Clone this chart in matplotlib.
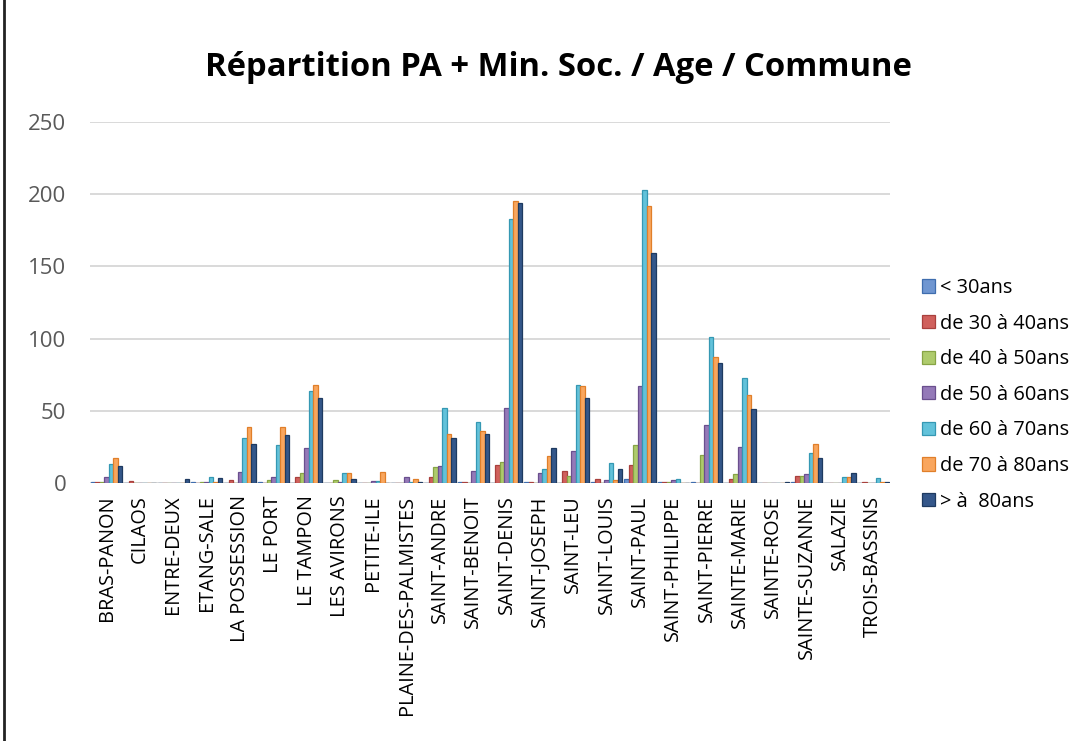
import matplotlib
matplotlib.use("Agg")
import matplotlib.pyplot as plt
import numpy as np
from matplotlib.lines import Line2D

communes = ["BRAS-PANON", "CILAOS", "ENTRE-DEUX", "ETANG-SALE", "LA POSSESSION",
            "LE PORT", "LE TAMPON", "LES AVIRONS", "PETITE-ILE",
            "PLAINE-DES-PALMISTES", "SAINT-ANDRE", "SAINT-BENOIT", "SAINT-DENIS",
            "SAINT-JOSEPH", "SAINT-LEU", "SAINT-LOUIS", "SAINT-PAUL",
            "SAINT-PHILIPPE", "SAINT-PIERRE", "SAINTE-MARIE", "SAINTE-ROSE",
            "SAINTE-SUZANNE", "SALAZIE", "TROIS-BASSINS"]

series_labels = ["< 30ans", "de 30 à 40ans", "de 40 à 50ans", "de 50 à 60ans",
                 "de 60 à 70ans", "de 70 à 80ans", "> à  80ans"]

lt30    = [1, 0,   0,   1,   0,   1,   0,  0,  0,   0,  0,  1,  0,    1,  0,  1,  3,    0.5, 1,    0,  0, 1,    0, 0]
a30_40  = [0.5, 1.5, 0, 0,   2,   0,   4,  0,  0,   0,  4,  1,  12.5, 1,  8,  3,  12.5, 1,   0,    3,  0, 5,    0, 1]
a40_50  = [1, 0,   0,   0.5, 0,   2,   7,  2,  0,   0,  11, 0,  14.5, 0,  5,  0,  26,   1,   19.5, 6,  0, 5,    0, 0]
a50_60  = [4, 0,   0,   1,   7.5, 4,   24, 1,  1.5, 4,  12, 8,  52,   7,  22, 2,  67,   2,   40,   25, 0, 6,    0, 0]
a60_70  = [13, 0,  0,   4.5, 31,  26,  64, 7,  1.5, 1,  52, 42, 183,  10, 68, 14, 203,  3,   101,  73, 0, 20.5, 4, 3.5]
a70_80  = [17, 0,  0,   1,   39,  39,  68, 7,  7.5, 3,  34, 36, 195,  19, 67, 2,  192,  0,   87,   61, 0, 27,   4, 1]
gt80    = [12, 0,  2.5, 3.5, 27,  33,  59, 3,  0,   1,  31, 34, 194,  24, 59, 10, 159,  0,   83,   51, 1, 17,   7, 1]

all_series = [lt30, a30_40, a40_50, a50_60, a60_70, a70_80, gt80]

face_colors = ["#6F96D1", "#D0605C", "#AECB6C", "#9479B8", "#62C2DA", "#F9A65E", "#34578A"]
edge_colors = ["#3F6DAE", "#A9403D", "#87A445", "#6A4F8E", "#3598B3", "#E07F2A", "#1E3A60"]

y_ticks = [0, 50, 100, 150, 200, 250]

plt.rcParams["font.family"] = ["Open Sans", "DejaVu Sans"]

fig = plt.figure(figsize=(10.89, 7.41), dpi=100)
ax = fig.add_axes([90 / 1089, 1 - 483 / 741, 800 / 1089, 361 / 741])

n_cat = len(communes)
n_ser = len(all_series)
x = np.arange(n_cat)
group_w = 0.94
bw = group_w / n_ser
for i, (vals, fc, ec, lab) in enumerate(zip(all_series, face_colors, edge_colors, series_labels)):
    offs = -group_w / 2 + bw * (i + 0.5)
    ax.bar(x + offs, vals, width=bw, color=fc, edgecolor=ec, linewidth=0.9,
           label=lab, zorder=3)

ax.set_xlim(-0.5, n_cat - 0.5)
ax.set_ylim(0, 250)
ax.set_yticks(y_ticks)
ax.set_yticklabels([str(v) for v in y_ticks], fontsize=16, color="#595959")
ax.set_xticks(x)
ax.set_xticklabels(communes, rotation=90, fontsize=14.3, color="#000000")
ax.tick_params(axis="both", length=0)
ax.tick_params(axis="y", pad=17)
ax.tick_params(axis="x", pad=9)
ax.yaxis.grid(True, color="#D9D9D9", linewidth=1.4, zorder=0)
ax.set_axisbelow(True)
for s in ax.spines.values():
    s.set_visible(False)
ax.axhline(0, color="#D9D9D9", linewidth=1.4, zorder=1)

fig.text(558 / 1089, 1 - 67 / 741, "Répartition PA + Min. Soc. / Age / Commune",
         ha="center", va="center", fontsize=23.6, fontweight="bold", color="#000000")

leg = ax.legend(loc="upper left", bbox_to_anchor=(914 / 1089, 1 - 270 / 741),
                bbox_transform=fig.transFigure, frameon=False, fontsize=14.4,
                handlelength=0.65, handleheight=0.65, handletextpad=0.25,
                labelspacing=0.78, borderaxespad=0)

fig.add_artist(Line2D([3.5 / 1089, 3.5 / 1089], [0, 1], color="#222222", linewidth=2,
                      transform=fig.transFigure))

fig.savefig("out.png", dpi=100, facecolor="white")
